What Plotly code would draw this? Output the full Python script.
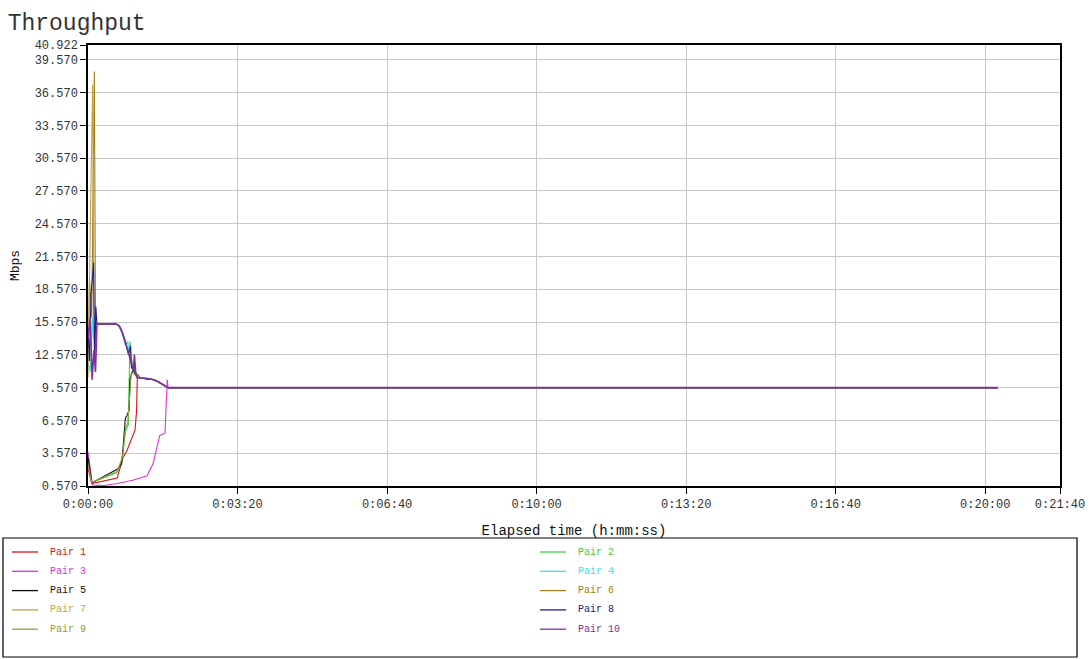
import plotly.graph_objects as go

# ---------------- data (seconds, Mbps) ----------------
# common settling segment shared by the pairs that converge at ~70 s
tail_t = [70, 80, 88, 94, 100, 107, 1217]
tail_v = [10.45, 10.4, 10.3, 10.1, 9.85, 9.57, 9.57]

p1_t = [0, 5, 39, 47, 52, 58, 63, 65, 66]
p1_v = [2.2, 0.8, 1.3, 3.2, 3.8, 4.8, 5.7, 7.5, 10.8]

p2_t = [0, 5, 39, 46, 50, 54, 56, 58, 61, 66]
p2_v = [2.8, 0.9, 1.8, 3.0, 5.5, 6.2, 13.8, 12.2, 11.5, 10.6]

# Pair 3 converges late, it has its own ending
p3_t = [0, 6, 20, 39, 60, 79, 87, 96, 103, 105, 106, 107, 1217]
p3_v = [3.7, 0.66, 0.6, 0.8, 1.1, 1.5, 2.6, 5.2, 5.4, 8.6, 10.3, 9.57, 9.57]

p4_t = [0, 3, 6, 9, 11, 38, 42, 46, 50, 53, 56, 60, 64]
p4_v = [12.0, 11.0, 16.0, 12.0, 15.4, 15.4, 15.1, 14.5, 13.4, 13.8, 12.2, 11.2, 10.6]

p5_t = [0, 5, 39, 45, 47, 50, 52, 55, 56, 59, 62, 65]
p5_v = [3.2, 0.85, 2.1, 2.6, 4.2, 6.8, 7.0, 7.5, 10.3, 11.0, 11.2, 10.6]

p6_t = [0, 2, 5, 8.5, 10, 12, 38, 42, 46, 50, 54, 58, 62, 66]
p6_v = [12.0, 19.5, 16.0, 38.5, 15.6, 15.4, 15.4, 15.2, 14.6, 13.8, 12.8, 11.8, 11.0, 10.5]

p7_t = [0, 2, 4, 6.3, 8, 10, 38, 42, 46, 50, 54, 58, 62, 66]
p7_v = [10.5, 22.0, 28.3, 37.3, 14.0, 15.4, 15.4, 15.2, 14.6, 13.8, 12.8, 11.8, 11.0, 10.5]

p8_t = [0, 2, 4, 7.5, 9, 10.5, 12, 38, 42, 46, 50, 54, 57, 58, 62, 66]
p8_v = [15.0, 12.0, 18.0, 21.0, 12.0, 17.0, 15.4, 15.4, 15.2, 14.6, 13.8, 12.6, 13.4, 11.4, 11.0, 10.5]

p9_t = [0, 5, 39, 46, 50, 53, 56, 58, 62]
p9_v = [2.5, 0.9, 1.9, 3.2, 5.8, 6.3, 9.0, 11.0, 10.8]

p10_t = [0, 3, 5.5, 8, 10, 12, 38, 42, 46, 50, 54, 58, 61, 62, 64, 66]
p10_v = [14.0, 16.0, 10.3, 13.0, 11.0, 15.4, 15.4, 15.2, 14.6, 13.8, 12.8, 11.8, 11.2, 12.6, 10.8, 10.5]

names = ["Pair 1", "Pair 2", "Pair 3", "Pair 4", "Pair 5",
         "Pair 6", "Pair 7", "Pair 8", "Pair 9", "Pair 10"]
colors = ["#e01010", "#40d040", "#e030e0", "#40e0f0", "#101010",
          "#a08020", "#c8a040", "#202080", "#90a040", "#8030a0"]
series = [(p1_t, p1_v), (p2_t, p2_v), (p3_t, p3_v), (p4_t, p4_v), (p5_t, p5_v),
          (p6_t, p6_v), (p7_t, p7_v), (p8_t, p8_v), (p9_t, p9_v), (p10_t, p10_v)]
uses_tail = [True, True, False, True, True, True, True, True, True, True]

y_ticks = [0.570, 3.570, 6.570, 9.570, 12.570, 15.570, 18.570, 21.570,
           24.570, 27.570, 30.570, 33.570, 36.570, 39.570, 40.922]
x_ticks = [0, 200, 400, 600, 800, 1000, 1200, 1300]
x_labels = ["0:00:00", "0:03:20", "0:06:40", "0:10:00", "0:13:20",
            "0:16:40", "0:20:00", "0:21:40"]

FONT = "Liberation Mono"
W, H = 1091, 659
ML, MR, MT, MB = 88, 31, 45, 173
PW, PH = W - ML - MR, H - MT - MB


def px(x):
    return (x - ML) / PW


def py(y):
    return (H - MB - y) / PH


fig = go.Figure()
for i, (name, col, (t, v), tl) in enumerate(zip(names, colors, series, uses_tail)):
    xs = list(t) + (tail_t if tl else [])
    ys = list(v) + (tail_v if tl else [])
    fig.add_trace(go.Scatter(
        x=xs, y=ys, mode="lines",
        line=dict(color=col, width=1.6 if i == len(names) - 1 else 1.1),
        name=name, showlegend=False,
    ))

# manual legend (two columns, row-major)
shapes = [dict(type="rect", xref="paper", yref="paper",
               x0=px(3), x1=px(1077), y0=py(657), y1=py(538),
               line=dict(color="black", width=1.2), fillcolor="rgba(0,0,0,0)")]
annotations = []
for i, (name, col) in enumerate(zip(names, colors)):
    row, c = divmod(i, 2)
    lx0 = 12 if c == 0 else 540
    yy = 552 + row * 19.3
    shapes.append(dict(type="line", xref="paper", yref="paper",
                       x0=px(lx0), x1=px(lx0 + 26), y0=py(yy), y1=py(yy),
                       line=dict(color=col, width=1.3)))
    annotations.append(dict(xref="paper", yref="paper", x=px(lx0 + 36), y=py(yy),
                            xanchor="left", yanchor="middle", text=name, showarrow=False,
                            font=dict(family=FONT, size=10, color=col)))

fig.update_layout(
    width=W, height=H,
    margin=dict(l=ML, r=MR, t=MT, b=MB),
    paper_bgcolor="white", plot_bgcolor="white",
    font=dict(family=FONT, color="#222222", size=12),
    title=dict(text="Throughput", x=0.007, xanchor="left", y=0.967, yanchor="middle",
               font=dict(family=FONT, size=23, color="#333333")),
    showlegend=False,
    shapes=shapes, annotations=annotations,
)

fig.update_xaxes(
    range=[0, 1300], tickvals=x_ticks, ticktext=x_labels, automargin=False,
    showgrid=True, gridcolor="#c8c8c8", gridwidth=1,
    showline=True, linecolor="black", linewidth=1.5, mirror=True,
    ticks="outside", ticklen=6, tickcolor="black",
    tickfont=dict(family=FONT, size=12, color="#333333"),
    title=dict(text="Elapsed time (h:mm:ss)", font=dict(family=FONT, size=14, color="#111111"),
               standoff=14),
    zeroline=False,
)
fig.update_yaxes(
    range=[0.570, 40.922], tickvals=y_ticks, ticktext=[f"{v:.3f}" for v in y_ticks],
    automargin=False,
    showgrid=True, gridcolor="#c8c8c8", gridwidth=1,
    showline=True, linecolor="black", linewidth=1.5, mirror=True,
    ticks="outside", ticklen=6, tickcolor="black",
    tickfont=dict(family=FONT, size=12, color="#333333"),
    title=dict(text="Mbps", font=dict(family=FONT, size=13, color="#111111"), standoff=12),
    zeroline=False,
)

fig.write_html("out.html", config={"displayModeBar": False},
               post_script="document.body.style.margin='0';document.body.style.overflow='hidden';")
